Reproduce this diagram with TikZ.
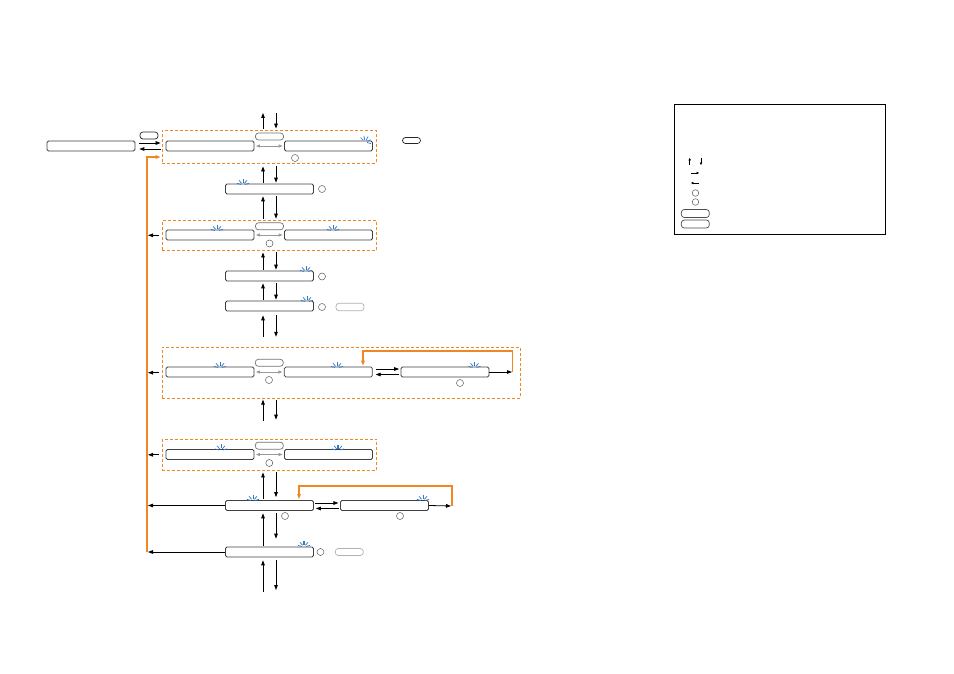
\documentclass[tikz,border=0pt]{standalone}
\usetikzlibrary{arrows.meta}
\definecolor{org}{RGB}{240,135,35}
\definecolor{blk}{RGB}{50,120,200}
\tikzset{
 box/.style={draw=black!75, line width=0.75pt, rounded corners=1.5pt, minimum width=88pt, minimum height=10pt, inner sep=0pt, fill=white},
 grp/.style={draw=org, dash pattern=on 3pt off 2pt, line width=0.85pt, inner sep=0pt},
 btn/.style={draw=#1, line width=0.7pt, rounded corners=3pt, minimum width=28pt, minimum height=7pt, inner sep=0pt, fill=white},
 btn/.default=black!55,
 circ/.style={circle, draw=black!65, line width=0.5pt, minimum size=7pt, inner sep=0pt},
 arr/.style={-{Triangle[length=5pt,width=3.6pt]}, line width=0.8pt},
 sarr/.style={-{Triangle[length=2.4pt,width=2.4pt]}, line width=0.6pt},
 garr/.style={{Triangle[length=4pt,width=3pt]}-{Triangle[length=4pt,width=3pt]}, draw=black!40, line width=0.8pt},
 oarr/.style={-{Triangle[length=5pt,width=3.6pt]}, draw=org, line width=1.1pt},
 blink/.pic={\foreach \a in {195,230,270,310,345} \draw[blk, line width=0.7pt] (\a:2.2) -- (\a:6.2);},
 blinkf/.pic={\foreach \a in {195,230,310,345} \draw[blk, line width=0.7pt] (\a:2.2) -- (\a:6.2); \draw[blk, line width=1.8pt] (270:2) -- (270:5.8);}
}
\newcommand{\udpair}[5]{%
 \draw[arr, shorten <=#4, shorten >=#3] (lu |- #1) -- (lu |- #2);
 \draw[arr, shorten <=#3, shorten >=#5] (ld |- #2) -- (ld |- #1);}
\begin{document}
\begin{tikzpicture}[x=1pt,y=-1pt]
\useasboundingbox (0,0) rectangle (954,674);
\coordinate (lu) at (263,0);
\coordinate (ld) at (276,0);
\coordinate (topend) at (270,113);
\coordinate (botend) at (270,592);
\coordinate (oc) at (147,552);
\coordinate (ot) at (147,157);

% ---- top group
\node[box] (L0) at (91,146) {};
\node[btn=black!85, minimum width=18pt] (b0) at (149,135.5) {};
\node[grp, minimum width=214pt, minimum height=33pt] (G1) at (269,146.5) {};
\node[box] (G1a) at (210,146) {};
\node[btn] (G1k) at (269.5,136.5) {};
\node[box] (G1b) at (328.5,146) {};
\node[circ] (G1c) at (295,158) {};
\node[btn=black!85, minimum width=18pt, minimum height=6pt] (b1) at (411.5,140.5) {};
\pic[rotate=-30] at (365,142) {blink};
\draw[garr, shorten <=1.5pt, shorten >=1.5pt] (G1a.east) -- (G1b.west);
\draw[arr] ([shift={(4pt,3pt)}]L0.east) -- ([shift={(-1pt,3.5pt)}]G1.west);
\draw[arr] ([shift={(-1pt,-2.5pt)}]G1.west) -- ([shift={(4pt,-3pt)}]L0.east);
\draw[oarr, shorten >=1pt] (oc) -- (ot) -- (ot -| G1.west);

% ---- row 2
\node[box] (R2) at (269.5,189) {};
\node[circ] (R2c) at (322,189) {};
\pic at (243,185) {blink};

% ---- group 2
\node[grp, minimum width=214pt, minimum height=30.5pt] (G2) at (269.3,235.3) {};
\node[box] (G2a) at (210,235) {};
\node[btn] (G2k) at (269.5,226.3) {};
\node[box] (G2b) at (328.5,235) {};
\node[circ] (G2c) at (269.5,243.5) {};
\pic at (217,231) {blink};
\pic at (333,231) {blink};
\draw[garr, shorten <=1.5pt, shorten >=1.5pt] (G2a.east) -- (G2b.west);
\draw[arr, shorten <=3pt, shorten >=1pt] (G2.west) -- (G2.west -| oc);

% ---- rows 3, 4
\node[box] (R3) at (269.5,276) {};
\node[circ] (R3c) at (322,276.5) {};
\pic at (306,272) {blink};
\node[box] (R4) at (269.5,306) {};
\node[circ] (R4c) at (322,307) {};
\pic at (307,302) {blink};
\node[btn=black!30, minimum height=7.5pt] (R4k) at (350,307) {};

% ---- group 3
\node[grp, minimum width=358pt, minimum height=51pt] (G3) at (341,372.7) {};
\node[box] (G3a) at (210,372) {};
\node[btn] (G3k) at (269.3,362.8) {};
\node[box] (G3b) at (328.3,372) {};
\node[circ] (G3cc) at (269,380) {};
\pic at (220,368) {blink};
\pic at (337,368) {blink};
\draw[garr, shorten <=1.5pt, shorten >=1.5pt] (G3a.east) -- (G3b.west);
\node[box] (G3c) at (445,372) {};
\pic at (474.5,368) {blink};
\node[circ] (G3cc2) at (460,383) {};
\draw[arr] ([shift={(3pt,3pt)}]G3b.east) -- ([shift={(-1.5pt,3pt)}]G3c.west);
\draw[arr] ([shift={(-1.5pt,-2.5pt)}]G3c.west) -- ([shift={(3pt,-2.5pt)}]G3b.east);
\coordinate (o3) at (512.5,372);
\coordinate (o3a) at (512.5,351);
\coordinate (o3b) at (363,351);
\draw[arr, shorten >=0.5pt] (G3c.east) -- (o3);
\draw[oarr, shorten >=1pt] (o3) -- (o3a) -- (o3b) -- (o3b |- G3b.north);
\draw[arr, shorten <=3pt, shorten >=1pt] (G3.west) -- (G3.west -| oc);

% ---- group 4
\node[grp, minimum width=214.5pt, minimum height=31.5pt] (G4) at (269.3,454.8) {};
\node[box] (G4a) at (210,454.5) {};
\node[btn] (G4k) at (269.3,445.7) {};
\node[box] (G4b) at (328.5,454.5) {};
\node[circ] (G4c) at (269.3,463) {};
\pic at (221,450.5) {blink};
\pic at (338,450.5) {blinkf};
\draw[garr, shorten <=1.5pt, shorten >=1.5pt] (G4a.east) -- (G4b.west);
\draw[arr, shorten <=3pt, shorten >=1pt] (G4.west) -- (G4.west -| oc);

% ---- row 5
\node[box] (R5a) at (269.5,505.5) {};
\pic at (253,501) {blink};
\node[circ] (R5c) at (285,516) {};
\node[box] (R5b) at (384.5,505.5) {};
\pic at (423,501) {blink};
\node[circ] (R5c2) at (400,516) {};
\draw[arr] ([shift={(1.5pt,2.5pt)}]R5a.east) -- ([shift={(-1.7pt,2.5pt)}]R5b.west);
\draw[arr] ([shift={(-1.5pt,-3pt)}]R5b.west) -- ([shift={(2pt,-3pt)}]R5a.east);
\coordinate (o5) at (452,506);
\coordinate (o5a) at (452,486);
\coordinate (o5b) at (299,486);
\draw[arr, shorten >=1pt] (R5b.east) -- (o5);
\draw[oarr, shorten >=1pt] (o5) -- (o5a) -- (o5b) -- (o5b |- R5a.north);
\draw[arr, shorten >=1pt] (R5a.west) -- (R5a.west -| oc);

% ---- row 6
\node[box] (R6) at (269.5,552) {};
\pic at (304,547) {blinkf};
\node[circ] (R6c) at (320.5,552) {};
\node[btn=black!30] (R6k) at (349.3,552) {};
\draw[arr, shorten >=1pt] (R6.west) -- (oc);

% ---- vertical up/down pairs
\udpair{G1.north}{topend}{0pt}{1pt}{1pt}
\udpair{R2.north}{G1.south}{3pt}{1pt}{1pt}
\udpair{G2.north}{R2.south}{2pt}{1pt}{1pt}
\udpair{R3.north}{G2.south}{1.5pt}{1pt}{1pt}
\udpair{R4.north}{R3.south}{2pt}{1pt}{1pt}
\udpair{G3.north}{R4.south}{4pt}{10pt}{10pt}
\udpair{G4.north}{G3.south}{1pt}{18pt}{19pt}
\udpair{R5a.north}{G4.south}{1.5pt}{1pt}{3pt}
\udpair{R6.north}{R5a.south}{2.5pt}{1pt}{8pt}
\udpair{botend}{R6.south}{3pt}{0pt}{2pt}

% ---- legend
\node[draw, line width=0.8pt, minimum width=211.5pt, minimum height=130pt, inner sep=0pt] (LG) at (779.8,169.5) {};
\coordinate (k1a) at (689.7,165); \coordinate (k1b) at (689.7,158);
\coordinate (k2a) at (701,158); \coordinate (k2b) at (701,165);
\coordinate (k3a) at (691,173); \coordinate (k3b) at (699,173);
\coordinate (k4a) at (699,183); \coordinate (k4b) at (691,183);
\draw[sarr] (k1a) -- (k1b);
\draw[sarr] (k2a) -- (k2b);
\draw[sarr] (k3a) -- (k3b);
\draw[sarr] (k4a) -- (k4b);
\node[circ, minimum size=6.6pt] (kc1) at (695.5,193) {};
\node[circ, minimum size=6.6pt] (kc2) at (695.5,202) {};
\node[btn=black!70, minimum height=8pt] (kb1) at (695.3,213.5) {};
\node[btn=black!70, minimum height=8pt] (kb2) at (695.3,224) {};
\end{tikzpicture}
\end{document}
